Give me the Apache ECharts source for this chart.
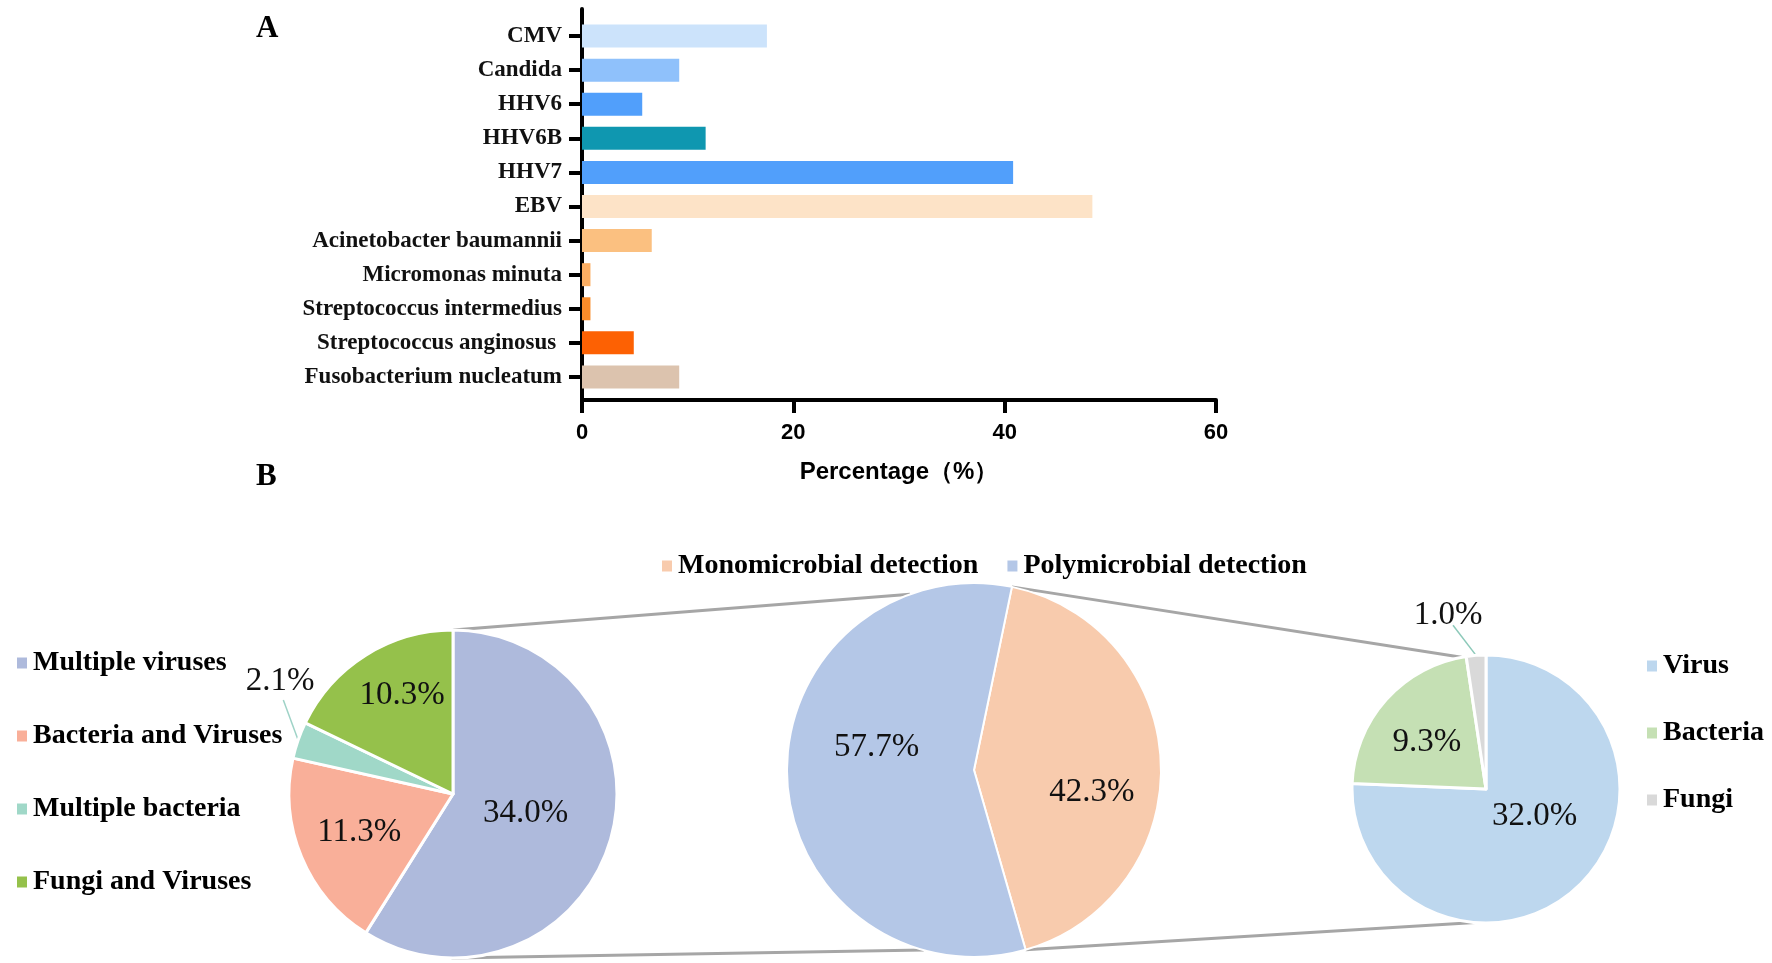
<!DOCTYPE html>
<html>
<head>
<meta charset="utf-8">
<script src="https://cdn.jsdelivr.net/npm/echarts@6/dist/echarts.min.js"></script>
<style>
  html, body { margin: 0; padding: 0; background: #fff; }
  #chart { width: 1772px; height: 963px; }
</style>
</head>
<body>
<div id="chart"></div>
<script>
// A: percentage of detections per pathogen
const categories = ['CMV', 'Candida', 'HHV6', 'HHV6B', 'HHV7', 'EBV',
  'Acinetobacter baumannii', 'Micromonas minuta', 'Streptococcus intermedius',
  'Streptococcus anginosus ', 'Fusobacterium nucleatum'];
const percentages = [17.5, 9.2, 5.7, 11.7, 40.8, 48.3, 6.6, 0.8, 0.8, 4.9, 9.2];
const xTicks = [0, 20, 40, 60];

// B: pies
const polyNames = ['Multiple viruses', 'Bacteria and Viruses', 'Multiple bacteria', 'Fungi and Viruses'];
const polyValues = [34.0, 11.3, 2.1, 10.3];
const detectNames = ['Monomicrobial detection', 'Polymicrobial detection'];
const detectValues = [42.3, 57.7];
const monoNames = ['Virus', 'Bacteria', 'Fungi'];
const monoValues = [32.0, 9.3, 1.0];

const barColors = ['#cce3fb', '#8fc1fb', '#519ffb', '#0f97b0', '#519ffb', '#fde3c7',
  '#fbc080', '#fbae63', '#f98c2a', '#fd6103', '#dcc3ae'];
const polyColors = ['#aebadc', '#f9af99', '#a0d8c8', '#95c14b'];
const detectColors = ['#f8cbad', '#b4c7e7'];
const monoColors = ['#bdd7ee', '#c5e0b4', '#d9d9d9'];

const SERIF = '"Liberation Serif", "Times New Roman", serif';
const SANS = '"Liberation Sans", Arial, sans-serif';

// pie geometry
const leftPie = { c: [453, 794], r: 164 };
const midPie = { c: [974, 770], r: 187 };
const rightPie = { c: [1486, 789], r: 134 };
const midStart = 78.3;

// where each value label sits: [clockwise angle from 12 o'clock, distance from centre]
const polyLabelPos = [[104.6, 75], [248, 101], [303, 206], [332.7, 111]];
const detectLabelPos = [[100.6, 120], [283.3, 100]];
const monoLabelPos = [[119.7, 56], [308, 75], [347.7, 178]];

// point on a pie at clockwise angle (deg from 12 o'clock)
function polar(p, dist, deg) {
  const a = deg * Math.PI / 180;
  return [p.c[0] + dist * Math.sin(a), p.c[1] - dist * Math.cos(a)];
}

function midAngle(values, idx, start) {
  const total = values.reduce((s, v) => s + v, 0);
  let acc = 0;
  for (let i = 0; i < idx; i++) acc += values[i];
  return start + (acc + values[idx] / 2) / total * 360;
}

const chart = echarts.init(document.getElementById('chart'));

const pctLabel = p => p.value.toFixed(1) + '%';
const pieLabel = {
  show: true, position: 'inside', formatter: pctLabel,
  color: '#111', fontFamily: SERIF, fontSize: 33
};
const legendText = { color: '#000', fontFamily: SERIF, fontWeight: 'bold', fontSize: 28, lineHeight: 30 };

function pieData(names, values, colors, outsideIdx, lineColor) {
  return names.map((n, i) => {
    const d = { name: n, value: values[i], itemStyle: { color: colors[i] } };
    if (i === outsideIdx) {
      d.label = { position: 'outside' };
      d.labelLine = { show: true, length: 10, length2: 0, lineStyle: { color: lineColor, width: 1.5 } };
    }
    return d;
  });
}

// places labels; the outside one gets a leader line from the slice edge
function labelLayout(pie, values, places, outsideIdx, endDeg, endDist) {
  return function (p) {
    const pl = places[p.dataIndex];
    const pos = polar(pie, pl[1], pl[0]);
    const out = { x: pos[0], y: pos[1], align: 'center', verticalAlign: 'middle' };
    if (p.dataIndex === outsideIdx) {
      const s = polar(pie, pie.r, midAngle(values, outsideIdx, 0));
      const e = polar(pie, endDist, endDeg);
      out.labelLinePoints = [s, s, e];
    }
    return out;
  };
}

// connector lines between pies
const connectors = [
  [polar(leftPie, leftPie.r, 0), polar(midPie, midPie.r, -20)],
  [polar(midPie, midPie.r, 90 - midStart), polar(rightPie, rightPie.r, -10.5)],
  [polar(leftPie, leftPie.r, 180.5), polar(midPie, midPie.r, 195.6)],
  [polar(midPie, midPie.r, 90 - midStart + 360 * detectValues[0] / (detectValues[0] + detectValues[1])),
   polar(rightPie, rightPie.r, 184.6)]
];

const option = {
  backgroundColor: '#fff',
  animation: false,
  title: [
    { text: 'A', left: 251, top: 8, textStyle: { fontFamily: SERIF, fontWeight: 'bold', fontSize: 31, color: '#000' } },
    { text: 'B', left: 251, top: 456, textStyle: { fontFamily: SERIF, fontWeight: 'bold', fontSize: 31, color: '#000' } }
  ],
  grid: [
    { left: 582, width: 634, top: 19, height: 375 },
    { left: 582, width: 634, top: 9, height: 391 }
  ],
  xAxis: [
    { type: 'value', gridIndex: 0, min: 0, max: 60, show: false },
    {
      type: 'value', gridIndex: 1, min: xTicks[0], max: xTicks[xTicks.length - 1], interval: 20,
      name: 'Percentage（%）', nameLocation: 'middle', nameGap: 60,
      nameTextStyle: { fontFamily: SANS, fontWeight: 'bold', fontSize: 24, color: '#000' },
      axisLine: { show: true, lineStyle: { color: '#000', width: 4 } },
      axisTick: { show: true, length: 13, lineStyle: { color: '#000', width: 4 } },
      axisLabel: { margin: 22, fontFamily: SANS, fontWeight: 'bold', fontSize: 22, color: '#000' },
      splitLine: { show: false }
    }
  ],
  yAxis: [
    {
      type: 'category', gridIndex: 0, inverse: true, data: categories,
      axisLine: { show: false },
      axisTick: { show: true, alignWithLabel: true, length: 13, lineStyle: { color: '#000', width: 4 } },
      axisLabel: { margin: 20, fontFamily: SERIF, fontWeight: 'bold', fontSize: 23, color: '#111' }
    },
    {
      type: 'value', gridIndex: 1, min: 0, max: 1,
      axisLine: { show: true, lineStyle: { color: '#000', width: 4 } },
      axisTick: { show: false }, axisLabel: { show: false }, splitLine: { show: false }
    }
  ],
  legend: [
    {
      orient: 'vertical', left: 10, top: 643, itemGap: 43, itemWidth: 12, itemHeight: 13,
      icon: 'rect', data: polyNames, textStyle: legendText
    },
    {
      orient: 'horizontal', left: 655, top: 546, itemGap: 27, itemWidth: 12, itemHeight: 13,
      icon: 'rect', data: detectNames, textStyle: legendText
    },
    {
      orient: 'vertical', left: 1640, top: 646, itemGap: 37, itemWidth: 12, itemHeight: 13,
      icon: 'rect', data: monoNames, textStyle: legendText
    }
  ],
  graphic: connectors.map(c => ({
    type: 'line', silent: true, z: 1,
    shape: { x1: c[0][0], y1: c[0][1], x2: c[1][0], y2: c[1][1] },
    style: { stroke: '#a6a6a6', lineWidth: 3 }
  })),
  series: [
    {
      type: 'bar', xAxisIndex: 0, yAxisIndex: 0, barWidth: 23, silent: true,
      data: percentages.map((v, i) => ({ value: v, itemStyle: { color: barColors[i] } }))
    },
    {
      type: 'pie', center: leftPie.c, radius: [0, leftPie.r], startAngle: 90, clockwise: true,
      avoidLabelOverlap: false, silent: true, z: 3,
      itemStyle: { borderColor: '#fff', borderWidth: 3 },
      label: pieLabel,
      labelLayout: labelLayout(leftPie, polyValues, polyLabelPos, 2, 299, 194),
      data: pieData(polyNames, polyValues, polyColors, 2, '#9fd3c7')
    },
    {
      type: 'pie', center: midPie.c, radius: [0, midPie.r], startAngle: midStart, clockwise: true,
      avoidLabelOverlap: false, silent: true, z: 3,
      itemStyle: { borderColor: '#fff', borderWidth: 2 },
      label: pieLabel,
      labelLayout: labelLayout(midPie, detectValues, detectLabelPos, -1),
      data: pieData(detectNames, detectValues, detectColors, -1)
    },
    {
      type: 'pie', center: rightPie.c, radius: [0, rightPie.r], startAngle: 90, clockwise: true,
      avoidLabelOverlap: false, silent: true, z: 3,
      itemStyle: { borderColor: '#fff', borderWidth: 3 },
      label: pieLabel,
      labelLayout: labelLayout(rightPie, monoValues, monoLabelPos, 2, 348.6, 167),
      data: pieData(monoNames, monoValues, monoColors, 2, '#8cc9b9')
    }
  ]
};

chart.setOption(option);
</script>
</body>
</html>
